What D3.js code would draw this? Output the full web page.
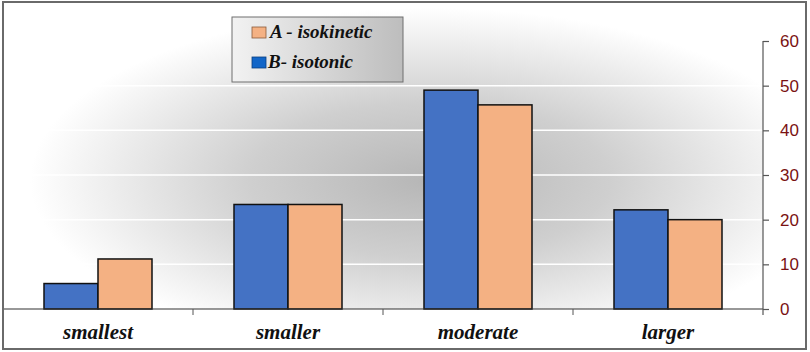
<!DOCTYPE html>
<html lang="en">
<head>
<meta charset="UTF-8">
<title>isokinetic vs isotonic</title>
<script src="https://d3js.org/d3.v7.min.js"></script>
<style>
  body { margin: 0; background: #fff; }
  .serif { font-family: "Liberation Serif"; font-style: italic; font-weight: bold; }
  .ticks text { font-family: "Liberation Sans"; }
</style>
</head>
<body>
<svg></svg>
<script>
const categories = ["smallest", "smaller", "moderate", "larger"];
const seriesNames = ["B- isotonic", "A - isokinetic"];
const isotonic = [5.7, 23.4, 49, 22.2];
const isokinetic = [11.2, 23.4, 45.7, 20];
const yTicks = [0, 10, 20, 30, 40, 50, 60];

const w = 810, h = 352;
const plotL = 3, plotR = 763, plotT = 41, plotB = 309;
const blue = "#4472c4", orange = "#f4b183";

const svg = d3.select("svg").attr("width", w).attr("height", h);
const defs = svg.append("defs");

const bg = defs.append("radialGradient")
    .attr("id", "bg")
    .attr("gradientUnits", "userSpaceOnUse")
    .attr("cx", 430).attr("cy", 180).attr("r", 400)
    .attr("gradientTransform", "translate(430,180) scale(1,0.43) translate(-430,-180)");
bg.append("stop").attr("offset", "0%").attr("stop-color", "#b6b6b6");
bg.append("stop").attr("offset", "45%").attr("stop-color", "#cfcfcf");
bg.append("stop").attr("offset", "100%").attr("stop-color", "#ffffff");

const lg = defs.append("linearGradient").attr("id", "lg")
    .attr("x1", "0%").attr("y1", "0%").attr("x2", "100%").attr("y2", "0%");
lg.append("stop").attr("offset", "0%").attr("stop-color", "#f2f2f2");
lg.append("stop").attr("offset", "100%").attr("stop-color", "#bdbdbd");

// plot background
svg.append("rect")
    .attr("x", plotL).attr("y", 3)
    .attr("width", plotR - plotL).attr("height", plotB - 3)
    .attr("fill", "url(#bg)");

const x = d3.scaleBand().domain(categories).range([plotL, plotR]);
const barW = 54;
const xs = d3.scaleBand().domain(seriesNames)
    .range([x.bandwidth() / 2 - barW, x.bandwidth() / 2 + barW]);
const y = d3.scaleLinear().domain([0, 60]).range([plotB, plotT]);

// white gridlines
svg.append("g").selectAll("line")
    .data(yTicks.filter(d => d > 0 && d < 60))
    .join("line")
    .attr("x1", plotL).attr("x2", plotR)
    .attr("y1", d => y(d)).attr("y2", d => y(d))
    .attr("stroke", "#fff").attr("stroke-width", 1.5);

// bars
const rows = categories.map((c, i) => ({
    cat: c,
    vals: [
        { s: seriesNames[0], v: isotonic[i], color: blue },
        { s: seriesNames[1], v: isokinetic[i], color: orange }
    ]
}));

svg.append("g").selectAll("g")
    .data(rows)
    .join("g")
    .attr("transform", d => `translate(${x(d.cat)},0)`)
    .selectAll("rect")
    .data(d => d.vals)
    .join("rect")
    .attr("x", d => xs(d.s))
    .attr("width", xs.bandwidth())
    .attr("y", d => y(d.v))
    .attr("height", d => y(0) - y(d.v))
    .attr("fill", d => d.color)
    .attr("stroke", "#111")
    .attr("stroke-width", 1.5);

// baseline and category ticks
svg.append("line")
    .attr("x1", plotL).attr("x2", plotR)
    .attr("y1", plotB).attr("y2", plotB)
    .attr("stroke", "#333").attr("stroke-width", 1.2);

svg.append("g").selectAll("line")
    .data(categories.slice(1))
    .join("line")
    .attr("x1", d => x(d)).attr("x2", d => x(d))
    .attr("y1", plotB).attr("y2", plotB + 6)
    .attr("stroke", "#555");

svg.append("g").selectAll("text")
    .data(categories)
    .join("text")
    .attr("class", "serif")
    .attr("x", d => x(d) + x.bandwidth() / 2)
    .attr("y", 339)
    .attr("text-anchor", "middle")
    .style("font-size", "21px")
    .attr("fill", "#111")
    .text(d => d);

// right axis
const yAxis = svg.append("g")
    .attr("class", "ticks")
    .attr("transform", `translate(${plotR},0)`)
    .call(d3.axisRight(y).tickValues(yTicks).tickSize(6).tickPadding(11));
yAxis.select(".domain").remove();
yAxis.append("line")
    .attr("x1", 0).attr("x2", 0)
    .attr("y1", plotT).attr("y2", plotB + 6)
    .attr("stroke", "#555").attr("stroke-width", 1.2);
yAxis.selectAll(".tick line").attr("stroke", "#555").attr("stroke-width", 1.2);
yAxis.selectAll(".tick text")
    .attr("fill", "#7a1212")
    .style("font-size", "17px");

// legend
const legend = svg.append("g").attr("transform", "translate(232,17)");
legend.append("rect")
    .attr("width", 171).attr("height", 65)
    .attr("fill", "url(#lg)")
    .attr("stroke", "#6f6f6f").attr("stroke-width", 1);

const legendItems = [
    { name: seriesNames[1], color: orange, stroke: "#8a5a3a" },
    { name: seriesNames[0], color: "#1266c8", stroke: "#0a3f80" }
];
const li = legend.selectAll("g.item")
    .data(legendItems)
    .join("g")
    .attr("class", "item")
    .attr("transform", (d, i) => `translate(20,${10 + i * 30})`);
li.append("rect")
    .attr("width", 14).attr("height", 11)
    .attr("fill", d => d.color)
    .attr("stroke", d => d.stroke).attr("stroke-width", 0.8);
li.append("text")
    .attr("class", "serif")
    .attr("x", (d, i) => i === 0 ? 18 : 16)
    .attr("y", 11)
    .style("font-size", "19px")
    .attr("fill", "#111")
    .text(d => d.name);

// outer border
svg.append("rect")
    .attr("x", 3).attr("y", 2)
    .attr("width", 803).attr("height", 347)
    .attr("fill", "none")
    .attr("stroke", "#6a6a6a").attr("stroke-width", 2);
</script>
</body>
</html>
